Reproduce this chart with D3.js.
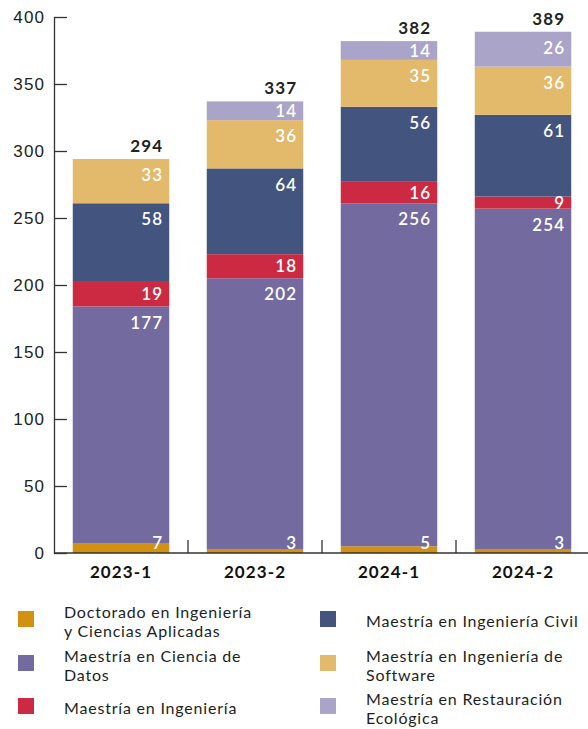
<!DOCTYPE html>
<html>
<head>
<meta charset="utf-8">
<script src="https://cdn.jsdelivr.net/npm/d3@7"></script>
<style>
  html, body { margin: 0; padding: 0; background: #fff; }
  svg { display: block; font-family: Lato, "Noto Sans", sans-serif; }
  .num { letter-spacing: 1.1px; }
</style>
</head>
<body>
<svg id="chart" width="588" height="729"></svg>
<script>
// ── DATA ─────────────────────────────────────────────────────────────────────
const categories = ['2023-1', '2023-2', '2024-1', '2024-2'];
const programs = [
  'Doctorado en Ingeniería y Ciencias Aplicadas',
  'Maestría en Ciencia de Datos',
  'Maestría en Ingeniería',
  'Maestría en Ingeniería Civil',
  'Maestría en Ingeniería de Software',
  'Maestría en Restauración Ecológica'
];
const doctorado   = [7, 3, 5, 3];
const cienciaDatos = [177, 202, 256, 254];
const ingenieria  = [19, 18, 16, 9];
const civil       = [58, 64, 56, 61];
const software    = [33, 36, 35, 36];
const restauracion = [0, 14, 14, 26];
const yTicks = [0, 50, 100, 150, 200, 250, 300, 350, 400];

// legend text split in lines, as printed
const legendLines = [
  ['Doctorado en Ingeniería', 'y Ciencias Aplicadas'],
  ['Maestría en Ciencia de', 'Datos'],
  ['Maestría en Ingeniería'],
  ['Maestría en Ingeniería Civil'],
  ['Maestría en Ingeniería de', 'Software'],
  ['Maestría en Restauración', 'Ecológica']
];

// ── COLOURS ──────────────────────────────────────────────────────────────────
const colors = ['#d39113', '#736aa0', '#cc2a43', '#43547f', '#e3b96c', '#a9a4c8'];

// ── SETUP ────────────────────────────────────────────────────────────────────
const seriesValues = [doctorado, cienciaDatos, ingenieria, civil, software, restauracion];
const rows = categories.map((c, i) => {
  const r = { cat: c };
  programs.forEach((p, j) => { r[p] = seriesValues[j][i]; });
  return r;
});
const stacked = d3.stack().keys(programs)(rows);

const svg = d3.select('#chart');
const M = { left: 54, right: 590, top: 17, bottom: 553 };

const x = d3.scaleBand().domain(categories).range([M.left, M.right])
  .paddingInner(0.28).paddingOuter(0.14);
const y = d3.scaleLinear().domain([0, 400]).range([M.bottom, M.top]);

// ── BARS ─────────────────────────────────────────────────────────────────────
const layers = svg.append('g').selectAll('g')
  .data(stacked)
  .join('g')
  .attr('fill', (d, i) => colors[i]);

layers.selectAll('rect')
  .data(d => d.map(v => ({ v, cat: v.data.cat })))
  .join('rect')
  .attr('x', d => x(d.cat))
  .attr('width', x.bandwidth())
  .attr('y', d => y(d.v[1]))
  .attr('height', d => y(d.v[0]) - y(d.v[1]));

// segment labels (end-anchored; trailing letter-spacing is compensated)
const labelX = c => x(c) + x.bandwidth() - 6;
stacked.forEach((s, si) => {
  svg.append('g').selectAll('text')
    .data(s.filter(v => v[1] - v[0] > 0))
    .join('text')
    .attr('class', 'num')
    .attr('x', v => labelX(v.data.cat))
    .attr('y', v => {
      if (si === 0) return y(0) - 10.5;
      const t = y(v[1]), h = y(v[0]) - y(v[1]);
      return t + Math.min(h / 2, 16);
    })
    .attr('dy', '0.36em')
    .attr('text-anchor', 'end')
    .attr('fill', '#fff')
    .attr('font-size', 17)
    .attr('font-weight', 600)
    .text(v => v[1] - v[0]);
});

// totals
const last = stacked[stacked.length - 1];
svg.append('g').selectAll('text')
  .data(last)
  .join('text')
  .attr('class', 'num')
  .attr('x', v => labelX(v.data.cat))
  .attr('y', v => y(v[1]) - 7)
  .attr('text-anchor', 'end')
  .attr('fill', '#222')
  .attr('font-size', 17)
  .attr('font-weight', 700)
  .text(v => v[1]);

// ── AXES ─────────────────────────────────────────────────────────────────────
const yAxis = svg.append('g')
  .attr('transform', `translate(${M.left},0)`)
  .call(d3.axisLeft(y).tickValues(yTicks).tickSizeInner(-13).tickSizeOuter(0).tickPadding(9));
yAxis.selectAll('path, line').attr('stroke', '#333').attr('stroke-width', 1.3);
yAxis.selectAll('text')
  .attr('class', 'num')
  .attr('font-size', 17).attr('fill', '#222').attr('font-family', null);

const xAxis = svg.append('g')
  .attr('transform', `translate(0,${M.bottom})`);
xAxis.append('line')
  .attr('x1', M.left).attr('x2', 588)
  .attr('stroke', '#333').attr('stroke-width', 1.3);
xAxis.selectAll('line.sep')
  .data(categories.slice(1))
  .join('line')
  .attr('class', 'sep')
  .attr('x1', c => x(c) - x.step() * x.paddingInner() / 2)
  .attr('x2', c => x(c) - x.step() * x.paddingInner() / 2)
  .attr('y1', 0).attr('y2', -13)
  .attr('stroke', '#333').attr('stroke-width', 1.3);
xAxis.selectAll('text')
  .data(categories)
  .join('text')
  .attr('class', 'num')
  .attr('x', c => x(c) + x.bandwidth() / 2)
  .attr('y', 25)
  .attr('text-anchor', 'middle')
  .attr('fill', '#111')
  .attr('font-size', 17)
  .attr('font-weight', 700)
  .text(c => c);

// ── LEGEND ───────────────────────────────────────────────────────────────────
const legend = svg.append('g');
programs.forEach((p, i) => {
  const col = Math.floor(i / 3), row = i % 3;
  const sx = col === 0 ? 18 : 320;
  const sy = [611, 655, 698][row];
  const g = legend.append('g');
  g.append('rect').attr('x', sx).attr('y', sy).attr('width', 16).attr('height', 16)
    .attr('fill', colors[i]);
  const lines = legendLines[i];
  const base = lines.length === 1 ? sy + 15.5 : sy + 6.5;
  g.selectAll('text')
    .data(lines)
    .join('text')
    .attr('x', sx + 46)
    .attr('y', (l, k) => base + k * 19)
    .attr('font-size', 16)
    .attr('letter-spacing', 0.8)
    .attr('fill', '#1e1e1e')
    .text(l => l);
});
</script>
</body>
</html>
